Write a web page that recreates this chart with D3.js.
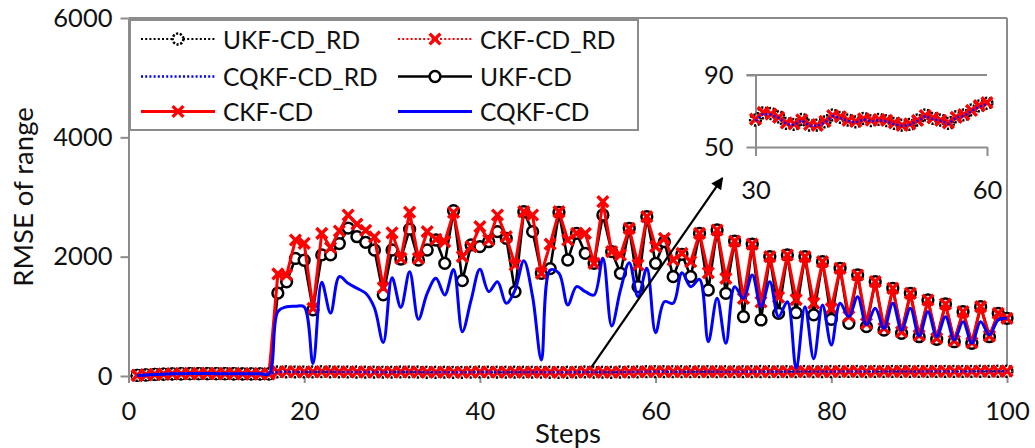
<!DOCTYPE html>
<html>
<head>
<meta charset="utf-8">
<script src="https://cdn.jsdelivr.net/npm/d3@7"></script>
<style>
  body { margin: 0; background: #fff; }
  svg { display: block; font-family: Lato, "Open Sans", sans-serif; }
</style>
</head>
<body>
<svg id="chart" width="1035" height="448"></svg>
<script>
// ---- data -------------------------------------------------------------
const steps = d3.range(1, 101);

// RMSE of range, "_RD" variants (stay close to zero)
const ukfRD = [10,18,26,32,36,38,40,41,41,40,39,38,37,36,36,36,
  70,71,69,68,70,72,71,69,68,67,66,66,65,
  65,69,68.6,66.8,63.1,62.6,65.4,62.2,62.2,64,67.8,66.5,65,64,65.9,64.6,65.4,64.6,63.1,62.2,62.6,65,67.8,65.9,65,63.1,66.8,67.8,70.6,72.8,74.3,
  74,73,72,72,73,74,73,72,72,73,74,75,74,73,74,75,76,75,74,75,76,77,76,75,76,77,78,77,76,77,78,79,78,77,78,79,80,79,80,80];
const ckfRD = [11,18,27,32,37,38,41,41,42,40,39,39,37,36,37,36,
  70,72,69,69,70,72,72,69,68,68,66,67,65,
  65.5,69.2,68.3,66.5,63.4,62.9,65.1,62.5,62.0,64.3,67.5,66.8,64.8,64.2,65.6,64.9,65.2,64.8,63.4,62.0,62.9,64.8,67.5,66.2,64.8,63.4,66.5,68.0,70.3,73.0,74.6,
  74,73,73,72,73,74,74,72,72,73,74,75,75,73,74,75,76,76,74,75,76,77,77,75,76,77,78,78,76,77,78,79,79,77,78,79,80,80,80,81];
const cqkfRD = [10,17,26,31,36,37,40,40,41,39,39,38,36,36,36,35,
  69,71,68,68,69,71,71,68,67,67,65,66,64,
  64.6,68.5,68.0,66.2,62.8,62.2,64.9,61.8,61.8,63.6,67.2,66.0,64.5,63.6,65.4,64.2,64.9,64.2,62.7,61.8,62.3,64.5,67.2,65.5,64.6,62.8,66.3,67.3,70.1,72.4,73.9,
  73,72,72,71,72,73,73,71,71,72,73,74,74,72,73,74,75,75,73,74,75,76,76,74,75,76,77,77,75,76,77,78,78,76,77,78,79,79,79,80];

// RMSE of range, "CD" variants
const ukfCD = [10,18,26,32,36,38,40,41,41,40,39,38,37,36,36,36,
  1390,1580,1970,1940,1110,2030,2030,2220,2480,2335,
  2240,2112,1360,2112,1960,2460,1944,2112,2279,1888,
  2770,1598,2196,2168,2251,2419,2307,1414,2754,2419,
  1721,1800,2740,1944,2391,2056,1888,2698,2084,1721,
  2475,1497,2670,1888,2251,1665,2040,1665,2391,1441,
  2447,1386,2260,994,2210,939,2000,1050,2028,1061,
  2000,1025,1916,950,1805,883,1693,827,1581,771,
  1470,716,1386,659,1274,615,1207,575,1078,548,
  1162,659,1050,967];
const ckfCD = [11,18,27,32,37,38,41,41,42,40,39,39,37,36,37,36,
  1710,1693,2279,2224,1134,2391,2150,2430,2698,2545,
  2440,2330,1480,2400,1972,2745,1972,2419,2291,2251,
  2740,2000,2168,2503,2279,2698,2335,1860,2754,2698,
  1721,2210,2754,2279,2391,2391,1888,2922,2084,2028,
  2475,1860,2670,2168,2307,1944,2056,1916,2391,1730,
  2447,1637,2260,1300,2210,1240,2000,1320,2028,1280,
  2000,1220,1916,1130,1805,1000,1693,880,1581,800,
  1470,740,1386,680,1274,630,1207,590,1078,560,
  1162,670,1050,967];
const cqkfCD = [10,17,26,31,36,37,40,40,41,39,39,38,36,36,36,35,
  1080,1160,1170,1160,210,1570,1055,1665,1553,1470,
  1386,1140,560,1645,1150,1748,950,1386,1637,1358,
  1785,743,1274,1788,1414,1581,1218,1441,1933,1330,
  270,1777,1721,1190,1497,1414,1358,1972,838,1441,
  1899,1330,1805,726,1246,1218,1731,1497,1620,575,
  1302,548,1497,1300,1693,1162,1581,994,1246,128,
  1162,290,1190,520,1218,994,1330,855,1134,799,
  1218,771,1134,670,1078,659,994,603,910,548,
  910,687,939,967];

const seriesNames = ["UKF-CD_RD", "CKF-CD_RD", "CQKF-CD_RD", "UKF-CD", "CKF-CD", "CQKF-CD"];
const yTicks = [0, 2000, 4000, 6000];
const xTicks = [0, 20, 40, 60, 80, 100];
const insetSteps = [30, 60];
const insetYTicks = [50, 90];
const axisTitleX = "Steps";
const axisTitleY = "RMSE of range";
// arrow pointing from the near-zero band up to the zoomed view (step, value)
const arrowFrom = [52.7, 150];
const arrowTo = [67.6, 3318];

// ---- styles -----------------------------------------------------------
const axisColor = "#8c8c8c";
const textColor = "#111";
const styles = {
  "UKF-CD_RD":  { color: "#000", width: 2.2, dash: "2,2.2", marker: "circle", markerDash: "2.2,1.6" },
  "CKF-CD_RD":  { color: "#ff0000", width: 2.2, dash: "2,2.2", marker: "x" },
  "CQKF-CD_RD": { color: "#0000ff", width: 2.6, dash: "2,2.2", marker: null },
  "UKF-CD":     { color: "#000", width: 2.6, dash: null, marker: "circle" },
  "CKF-CD":     { color: "#ff0000", width: 3, dash: null, marker: "x" },
  "CQKF-CD":    { color: "#0000ff", width: 3, dash: null, marker: null, smooth: true }
};
const seriesData = {
  "UKF-CD_RD": ukfRD, "CKF-CD_RD": ckfRD, "CQKF-CD_RD": cqkfRD,
  "UKF-CD": ukfCD, "CKF-CD": ckfCD, "CQKF-CD": cqkfCD
};

const svg = d3.select("#chart");

// ---- main scales ------------------------------------------------------
const x = d3.scaleLinear().domain([0, 100]).range([128.5, 1007]);
const y = d3.scaleLinear().domain([0, 6000]).range([376, 18]);

// plot frame (top and right edges)
svg.append("line")
  .attr("x1", x(0)).attr("x2", x(100)).attr("y1", y(6000)).attr("y2", y(6000))
  .attr("stroke", axisColor).attr("stroke-width", 2);
svg.append("line")
  .attr("x1", x(100)).attr("x2", x(100)).attr("y1", y(6000)).attr("y2", y(0))
  .attr("stroke", axisColor).attr("stroke-width", 2);

function styleAxis(g, size) {
  g.attr("font-family", "Lato, 'Open Sans', sans-serif").attr("font-size", size);
  g.select(".domain").attr("stroke", axisColor).attr("stroke-width", 2);
  g.selectAll(".tick line").attr("stroke", axisColor).attr("stroke-width", 2);
  g.selectAll(".tick text").attr("fill", textColor);
}

const gx = svg.append("g")
  .attr("transform", `translate(0,${y(0)})`)
  .call(d3.axisBottom(x).tickValues(xTicks).tickSize(7).tickSizeOuter(0).tickFormat(d3.format("d")));
styleAxis(gx, 25.5);
gx.selectAll(".tick text").attr("y", 35).attr("dy", "0.35em");

const gy = svg.append("g")
  .attr("transform", `translate(${x(0)},0)`)
  .call(d3.axisLeft(y).tickValues(yTicks).tickSize(8).tickPadding(8).tickSizeOuter(0).tickFormat(d3.format("d")));
styleAxis(gy, 25.5);

// axis titles
svg.append("text")
  .attr("x", 568).attr("y", 432)
  .attr("text-anchor", "middle").attr("dominant-baseline", "central")
  .attr("font-size", 27.5).attr("fill", textColor)
  .text(axisTitleX);
svg.append("text")
  .attr("transform", "translate(22,197) rotate(-90)")
  .attr("text-anchor", "middle").attr("dominant-baseline", "central")
  .attr("font-size", 27.5).attr("fill", textColor)
  .text(axisTitleY);

// ---- series drawing ---------------------------------------------------
function drawMarker(sel, kind, st) {
  if (kind === "circle") {
    sel.append("circle").attr("r", 5.4)
      .attr("fill", "#fff").attr("stroke", st.color).attr("stroke-width", 2.5)
      .attr("stroke-dasharray", st.markerDash || null);
  } else if (kind === "x") {
    sel.append("path").attr("d", "M-5.4,-5.4L5.4,5.4M-5.4,5.4L5.4,-5.4")
      .attr("fill", "none").attr("stroke", st.color).attr("stroke-width", 3.4);
  }
}

function drawSeries(parent, name, xs, ys, pts) {
  const st = styles[name];
  const g = parent.append("g").attr("class", "series");
  const line = d3.line()
    .x(d => xs(d.s)).y(d => ys(d.v))
    .curve(st.smooth ? d3.curveCatmullRom.alpha(0.5) : d3.curveLinear);
  g.append("path").datum(pts)
    .attr("d", line).attr("fill", "none")
    .attr("stroke", st.color).attr("stroke-width", st.width)
    .attr("stroke-dasharray", st.dash).attr("stroke-linejoin", "round");
  if (st.marker) {
    g.selectAll("g.m").data(pts).join("g").attr("class", "m")
      .attr("transform", d => `translate(${xs(d.s)},${ys(d.v)})`)
      .each(function () { drawMarker(d3.select(this), st.marker, st); });
  }
}

const points = name => seriesData[name].map((v, i) => ({ s: steps[i], v }));

const plot = svg.append("g");
["UKF-CD", "CKF-CD", "UKF-CD_RD", "CKF-CD_RD", "CQKF-CD_RD", "CQKF-CD"]
  .forEach(n => drawSeries(plot, n, x, y, points(n)));

// ---- arrow ------------------------------------------------------------
svg.append("defs").append("marker")
  .attr("id", "arrowHead").attr("viewBox", "0 -5 10 10")
  .attr("refX", 9).attr("refY", 0)
  .attr("markerUnits", "userSpaceOnUse")
  .attr("markerWidth", 14).attr("markerHeight", 12)
  .attr("orient", "auto")
  .append("path").attr("d", "M0,-5L10,0L0,5Z").attr("fill", "#000");
svg.append("line")
  .attr("x1", x(arrowFrom[0])).attr("y1", y(arrowFrom[1]))
  .attr("x2", x(arrowTo[0])).attr("y2", y(arrowTo[1]))
  .attr("stroke", "#000").attr("stroke-width", 2.2)
  .attr("marker-end", "url(#arrowHead)");

// ---- inset: near-zero band for steps 30–60 ------------------------------
const xi = d3.scaleLinear().domain(insetSteps).range([755.5, 987]);
const yi = d3.scaleLinear().domain(insetYTicks).range([147, 75]);
const inset = svg.append("g");
// gridline at the top value
inset.append("line")
  .attr("x1", xi(insetSteps[0]) - 9).attr("x2", xi(insetSteps[1]))
  .attr("y1", yi(insetYTicks[1])).attr("y2", yi(insetYTicks[1]))
  .attr("stroke", axisColor).attr("stroke-width", 2);
const gxi = inset.append("g")
  .attr("transform", `translate(0,${yi(insetYTicks[0])})`)
  .call(d3.axisBottom(xi).tickValues(insetSteps).tickSize(9).tickSizeOuter(0).tickFormat(d3.format("d")));
styleAxis(gxi, 25.5);
gxi.selectAll(".tick text").attr("y", 43).attr("dy", "0.35em");
const gyi = inset.append("g")
  .attr("transform", `translate(${xi(insetSteps[0])},0)`)
  .call(d3.axisLeft(yi).tickValues(insetYTicks).tickSize(9).tickPadding(13).tickSizeOuter(0).tickFormat(d3.format("d")));
styleAxis(gyi, 25.5);

const insetPts = name => points(name).filter(d => d.s >= insetSteps[0] && d.s <= insetSteps[1]);
["UKF-CD_RD", "CKF-CD_RD", "CQKF-CD_RD"].forEach(n => drawSeries(inset, n, xi, yi, insetPts(n)));

// ---- legend -----------------------------------------------------------
const legend = svg.append("g");
legend.append("rect")
  .attr("x", 130).attr("y", 20).attr("width", 508).attr("height", 110)
  .attr("fill", "#fff").attr("stroke", axisColor).attr("stroke-width", 2);
const colX = [141, 398];
const rowY = [39, 76.5, 111.5];
seriesNames.forEach((name, i) => {
  const st = styles[name];
  const g = legend.append("g")
    .attr("transform", `translate(${colX[i % 2]},${rowY[Math.floor(i / 2)]})`);
  g.append("line").attr("x1", 0).attr("x2", 74).attr("y1", 0).attr("y2", 0)
    .attr("stroke", st.color).attr("stroke-width", st.width)
    .attr("stroke-dasharray", st.dash);
  if (st.marker) drawMarker(g.append("g").attr("transform", "translate(37,0)"), st.marker, st);
  g.append("text").attr("x", 82).attr("y", 0)
    .attr("dominant-baseline", "central")
    .attr("font-size", 24.5).attr("fill", textColor)
    .text(name);
});
</script>
</body>
</html>
